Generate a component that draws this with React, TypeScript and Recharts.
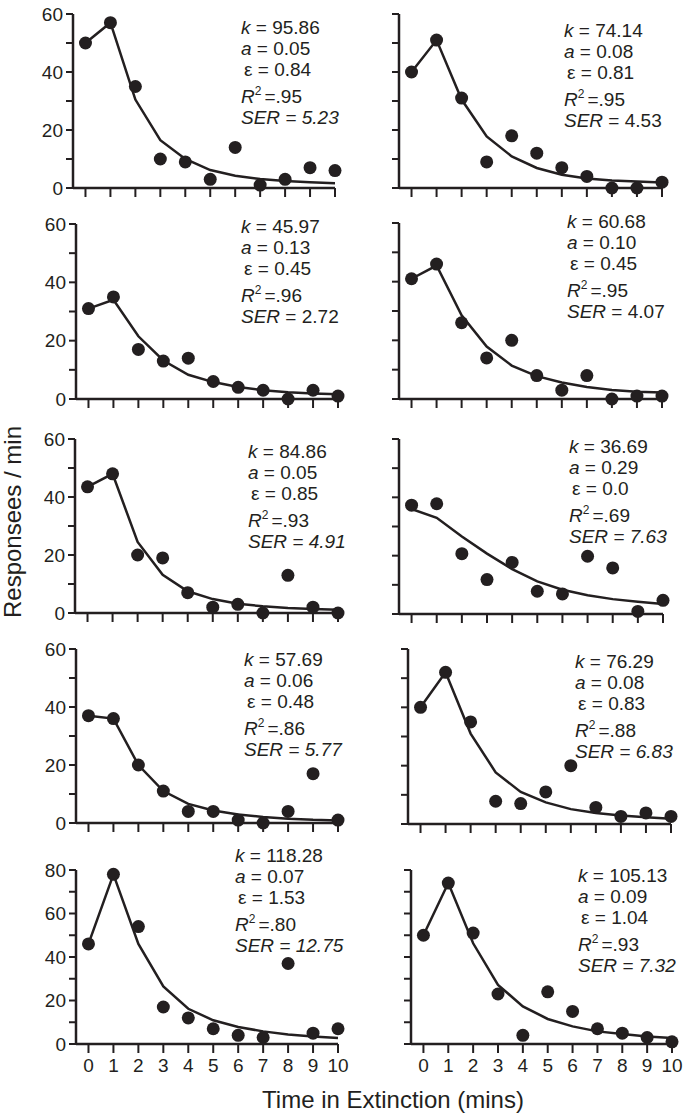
import { ComposedChart, Line, Scatter, XAxis, YAxis } from 'recharts';

// minutes in extinction
const TIMES = [0, 1, 2, 3, 4, 5, 6, 7, 8, 9, 10];

// observed response rates (dots) and fitted curve per panel, left-to-right, top-to-bottom
const OBS_1 = [50, 57, 35, 10, 9, 3, 14, 1, 3, 7, 6];
const FIT_1 = [50, 57, 30.5, 16.5, 10, 6.2, 4.2, 3.1, 2.4, 2.0, 1.6];
const OBS_2 = [40, 51, 31, 9, 18, 12, 7, 4, 0, 0, 2];
const FIT_2 = [40, 51, 30.5, 17.8, 10.9, 6.9, 4.6, 3.3, 2.6, 2.2, 1.9];
const OBS_3 = [31, 35, 17, 13, 14, 6, 4, 3, 0, 3, 1];
const FIT_3 = [31, 34, 21.5, 13.2, 8.3, 5.8, 4.1, 3.0, 2.3, 1.9, 1.6];
const OBS_4 = [41, 46, 26, 14, 20, 8, 3, 8, 0, 1, 1];
const FIT_4 = [41, 45.5, 28.5, 17.9, 11.4, 7.8, 5.6, 4.1, 3.1, 2.5, 2.2];
const OBS_5 = [43.5, 48, 20, 19, 7, 2, 3, 0, 13, 2, 0];
const FIT_5 = [43.5, 48, 24.5, 13.2, 7.5, 4.8, 3.2, 2.3, 1.7, 1.4, 1.1];
const OBS_6 = [37.3, 37.8, 20.7, 11.8, 17.7, 7.8, 6.9, 19.8, 15.8, 0.9, 4.7];
const FIT_6 = [36, 33, 26.6, 20.7, 15.4, 11.2, 8.3, 6.4, 5.1, 4.2, 3.4];
const OBS_7 = [37, 36, 20, 11, 4, 4, 1, 0, 4, 17, 1];
const FIT_7 = [37, 36, 20, 11, 6.6, 4.3, 2.9, 2.1, 1.5, 1.1, 0.9];
const OBS_8 = [40, 52, 35, 7.8, 7, 11, 20, 5.7, 2.6, 3.8, 2.6];
const FIT_8 = [40, 52, 31, 17.7, 11, 7.4, 5.1, 3.8, 2.9, 2.3, 1.8];
const OBS_9 = [46, 78, 54, 17, 12, 7, 4, 3, 37, 5, 7];
const FIT_9 = [46, 78, 46, 26.5, 16.2, 10.9, 7.8, 5.8, 4.4, 3.5, 2.8];
const OBS_10 = [50, 74, 51, 23, 4, 24, 15, 7, 5, 3, 1];
const FIT_10 = [50, 74, 46.3, 27.2, 17.3, 11.5, 8.1, 5.8, 4.6, 3.5, 2.8];

const OBS = [OBS_1, OBS_2, OBS_3, OBS_4, OBS_5, OBS_6, OBS_7, OBS_8, OBS_9, OBS_10];
const FIT = [FIT_1, FIT_2, FIT_3, FIT_4, FIT_5, FIT_6, FIT_7, FIT_8, FIT_9, FIT_10];

// fit statistics printed in each panel
const K_VALUES = ['95.86', '74.14', '45.97', '60.68', '84.86', '36.69', '57.69', '76.29', '118.28', '105.13'];
const A_VALUES = ['0.05', '0.08', '0.13', '0.10', '0.05', '0.29', '0.06', '0.08', '0.07', '0.09'];
const EPS_VALUES = ['0.84', '0.81', '0.45', '0.45', '0.85', '0.0', '0.48', '0.83', '1.53', '1.04'];
const R2_VALUES = ['.95', '.95', '.96', '.95', '.93', '.69', '.86', '.88', '.80', '.93'];
const SER_VALUES = ['5.23', '4.53', '2.72', '4.07', '4.91', '7.63', '5.77', '6.83', '12.75', '7.32'];
const SER_ITALIC = [true, false, false, false, true, true, true, true, true, true];

const Y_MAX = [60, 60, 60, 60, 60, 60, 60, 60, 80, 80];

const INK = '#231f20';
const FONT = '"Liberation Sans", Arial, sans-serif';

// panel geometry in page pixels: y-axis x, x=10 tick x, top of y-axis, zero line, stats text origin
const LAYOUT = [
  { axisX: 73, x10: 335, yTop: 14, y0: 188, tx: 241, ty: 34 },
  { axisX: 399, x10: 662, yTop: 14, y0: 188, tx: 564, ty: 37 },
  { axisX: 76, x10: 338, yTop: 224, y0: 399, tx: 241, ty: 233 },
  { axisX: 399, x10: 662, yTop: 223, y0: 399, tx: 567, ty: 228 },
  { axisX: 75, x10: 338, yTop: 439, y0: 613, tx: 248, ty: 458 },
  { axisX: 399, x10: 663, yTop: 439, y0: 614, tx: 569, ty: 453 },
  { axisX: 76, x10: 338, yTop: 649, y0: 823, tx: 244, ty: 666 },
  { axisX: 408, x10: 671, yTop: 649, y0: 824, tx: 575, ty: 668 },
  { axisX: 76, x10: 338, yTop: 870, y0: 1044, tx: 235, ty: 862 },
  { axisX: 411, x10: 672, yTop: 870, y0: 1044, tx: 578, ty: 882 },
];

const Dot = (props: any) => <circle cx={props.cx} cy={props.cy} r={6.5} fill={INK} />;

function Panel({ idx }: { idx: number }) {
  const cfg = LAYOUT[idx];
  const leftCol = idx % 2 === 0;
  const bottomRow = idx >= 8;
  const rows = TIMES.map((t, i) => ({ t, obs: OBS[idx][i], fit: FIT[idx][i] }));
  const yMax = Y_MAX[idx];
  const yTicks = Array.from({ length: yMax / 10 + 1 }, (_, i) => i * 10);

  const yAxisW = leftCol ? 45 : 20;
  const xAxisH = bottomRow ? 36 : 14;
  const left = cfg.axisX - yAxisW;
  const top = cfg.yTop - 10;
  const width = cfg.x10 + 12 - left;
  const height = 10 + (cfg.y0 - cfg.yTop) + xAxisH;

  return (
    <div style={{ position: 'absolute', left, top }}>
      <ComposedChart width={width} height={height} data={rows} margin={{ top: 10, right: 12, bottom: 0, left: 0 }}>
        <XAxis
          type="number"
          dataKey="t"
          domain={[-0.5, 10]}
          ticks={TIMES}
          interval={0}
          height={xAxisH}
          tickSize={9}
          tickMargin={6}
          axisLine={{ stroke: INK, strokeWidth: 2.5 }}
          tickLine={{ stroke: INK, strokeWidth: 2 }}
          tick={{ fill: INK, fontSize: 19 }}
          tickFormatter={v => (bottomRow ? String(v) : '')}
        />
        <YAxis
          type="number"
          domain={[0, yMax]}
          ticks={yTicks}
          interval={0}
          width={yAxisW}
          tickSize={7}
          tickMargin={3}
          axisLine={{ stroke: INK, strokeWidth: 2.5 }}
          tickLine={{ stroke: INK, strokeWidth: 2 }}
          tick={{ fill: INK, fontSize: 19 }}
          tickFormatter={v => (leftCol && v % 20 === 0 ? String(v) : '')}
        />
        <Line
          type="linear"
          dataKey="fit"
          stroke={INK}
          strokeWidth={2.5}
          dot={false}
          activeDot={false}
          isAnimationActive={false}
        />
        <Scatter data={rows} dataKey="obs" shape={Dot} isAnimationActive={false} />
      </ComposedChart>
    </div>
  );
}

function Stats({ idx }: { idx: number }) {
  const { tx, ty } = LAYOUT[idx];
  return (
    <g fontSize={19} fill={INK} style={{ whiteSpace: 'pre' }}>
      <text x={tx} y={ty}>
        <tspan fontStyle="italic">k</tspan> = {K_VALUES[idx]}
      </text>
      <text x={tx} y={ty + 21}>
        <tspan fontStyle="italic">a</tspan> = {A_VALUES[idx]}
      </text>
      <text x={tx + 3} y={ty + 42}>ε = {EPS_VALUES[idx]}</text>
      <text x={tx} y={ty + 69}>
        <tspan fontStyle="italic">R</tspan>
        <tspan dy={-8} fontSize={12}>2</tspan>
        <tspan dy={8} dx={3}>={R2_VALUES[idx]}</tspan>
      </text>
      <text x={tx} y={ty + 90}>
        <tspan fontStyle="italic">SER</tspan>
        <tspan fontStyle={SER_ITALIC[idx] ? 'italic' : 'normal'}> = {SER_VALUES[idx]}</tspan>
      </text>
    </g>
  );
}

export default function App() {
  const panels = LAYOUT.map((_, i) => i);
  return (
    <div
      style={{
        position: 'absolute',
        left: 0,
        top: 0,
        width: 685,
        height: 1114,
        background: '#fff',
        fontFamily: FONT,
        overflow: 'hidden',
      }}
    >
      {panels.map(i => (
        <Panel key={i} idx={i} />
      ))}
      <svg
        width={685}
        height={1114}
        style={{ position: 'absolute', left: 0, top: 0, pointerEvents: 'none', fontFamily: FONT }}
      >
        {panels.map(i => (
          <Stats key={i} idx={i} />
        ))}
        <text transform="rotate(-90)" x={-522} y={21} textAnchor="middle" fontSize={24} fill={INK}>
          Responsees / min
        </text>
        <text x={393} y={1108} textAnchor="middle" fontSize={24} fill={INK}>
          Time in Extinction (mins)
        </text>
      </svg>
    </div>
  );
}
